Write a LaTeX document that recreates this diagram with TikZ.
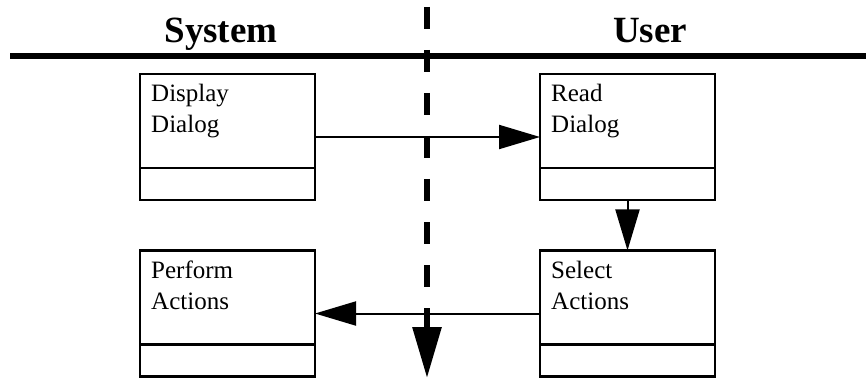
\documentclass[tikz,border=0pt]{standalone}
\usepackage{fontspec}
\setmainfont{Liberation Serif}
\usetikzlibrary{arrows.meta,calc}
\tikzset{
  box/.style={draw, line width=2.5pt, minimum width=175pt, minimum height=126pt, inner sep=0pt, outer sep=0pt},
  divider/.style={line width=2.5pt},
  conn/.style={line width=2pt, -{Triangle[length=41pt,width=24pt]}},
  lbl/.style={anchor=base west, inner sep=0pt, font=\fontsize{25}{31}\selectfont},
  title/.style={anchor=base, inner sep=0pt, font=\fontsize{37}{40}\selectfont\bfseries},
  lane/.style={line width=6pt},
  swim/.style={line width=6pt, dash pattern=on 22pt off 21pt, -{Triangle[length=51pt,width=28pt]}}
}
\begin{document}
\begin{tikzpicture}[x=1pt,y=-1pt]
\useasboundingbox (0,0) rectangle (866,379);
% titles
\node[title] (tsys) at (221,43) {System};
\node[title] (tuser) at (650,43) {User};
% lane lines
\coordinate (hl) at (10,56);
\coordinate (hr) at (866,56);
\draw[lane] (hl) -- (hr);
\coordinate (dtop) at (427,7);
\coordinate (dbot) at (427,378);
\draw[swim] (dtop) -- (dbot);
% boxes
\node[box] (disp) at (227.5,137) {};
\node[box] (read) at (627.5,137) {};
\node[box] (perf) at (227.5,313.5) {};
\node[box] (sel) at (627.5,313.5) {};
\foreach \b in {disp,read,perf,sel}{
  \draw[divider] ($(\b.north west)+(0,94)$) -- ($(\b.north east)+(0,94)$);
}
% labels
\node[lbl] (disp1) at ($(disp.north west)+(11,28)$) {Display};
\node[lbl] (disp2) at ($(disp.north west)+(11,59)$) {Dialog};
\node[lbl] (read1) at ($(read.north west)+(11,28)$) {Read};
\node[lbl] (read2) at ($(read.north west)+(11,59)$) {Dialog};
\node[lbl] (perf1) at ($(perf.north west)+(11,28)$) {Perform};
\node[lbl] (perf2) at ($(perf.north west)+(11,59)$) {Actions};
\node[lbl] (sel1) at ($(sel.north west)+(11,28)$) {Select};
\node[lbl] (sel2) at ($(sel.north west)+(11,59)$) {Actions};
% connectors
\draw[conn] (disp) -- (read);
\draw[conn] (read) -- (sel);
\draw[conn] (sel) -- (perf);
\end{tikzpicture}
\end{document}
